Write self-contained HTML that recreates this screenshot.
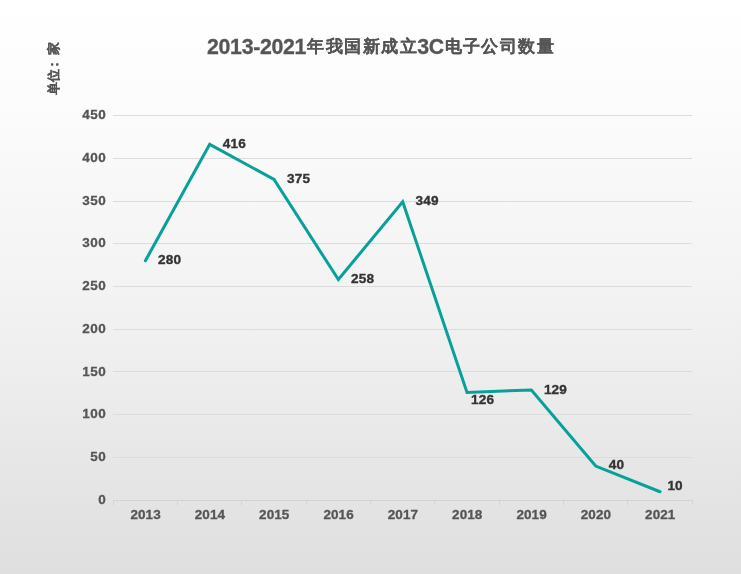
<!DOCTYPE html>
<html><head><meta charset="utf-8">
<style>
html,body{margin:0;padding:0;}
body{width:741px;height:574px;overflow:hidden;background:linear-gradient(to bottom,#ffffff 0px,#fcfcfc 100px,#f7f7f7 200px,#f3f3f3 287px,#ededed 380px,#e6e6e6 470px,#dfdfdf 574px);font-family:"Liberation Sans",sans-serif;}
svg{position:absolute;left:0;top:0;will-change:transform;}
</style></head>
<body>
<svg width="741" height="574" viewBox="0 0 741 574">
<g stroke="#dcdcdc" stroke-width="1" fill="none">
<line x1="113" y1="115.5" x2="692" y2="115.5"/>
<line x1="113" y1="158.5" x2="692" y2="158.5"/>
<line x1="113" y1="201.5" x2="692" y2="201.5"/>
<line x1="113" y1="243.5" x2="692" y2="243.5"/>
<line x1="113" y1="286.5" x2="692" y2="286.5"/>
<line x1="113" y1="329.5" x2="692" y2="329.5"/>
<line x1="113" y1="371.5" x2="692" y2="371.5"/>
<line x1="113" y1="414.5" x2="692" y2="414.5"/>
<line x1="113" y1="457.5" x2="692" y2="457.5"/>
</g>
<g stroke="#d4d4d4" stroke-width="1" fill="none"><line x1="113" y1="500.5" x2="693" y2="500.5"/><path d="M113.5 500.5V505M177.5 500.5V505M241.5 500.5V505M306.5 500.5V505M370.5 500.5V505M434.5 500.5V505M499.5 500.5V505M563.5 500.5V505M627.5 500.5V505M692.5 500.5V505"/></g>
<g font-family="Liberation Sans, sans-serif" font-weight="bold" font-size="13.5" letter-spacing="0.5" fill="#555" stroke="#555" stroke-width="0.3" text-anchor="end">
<text x="106.3" y="119.3" dy="0">450</text>
<text x="106.3" y="162.3" dy="0">400</text>
<text x="106.3" y="205.3" dy="0">350</text>
<text x="106.3" y="247.3" dy="0">300</text>
<text x="106.3" y="290.3" dy="0">250</text>
<text x="106.3" y="333.3" dy="0">200</text>
<text x="106.3" y="375.5" dy="0">150</text>
<text x="106.3" y="418.3" dy="0">100</text>
<text x="106.3" y="461.3" dy="0">50</text>
<text x="106.3" y="504.3" dy="0">0</text>
</g>
<g font-family="Liberation Sans, sans-serif" font-weight="bold" font-size="13.5" letter-spacing="0.1" fill="#555" stroke="#555" stroke-width="0.3" text-anchor="middle">
<text x="145.62" y="519.1">2013</text>
<text x="209.95" y="519.1">2014</text>
<text x="274.28" y="519.1">2015</text>
<text x="338.62" y="519.1">2016</text>
<text x="402.95" y="519.1">2017</text>
<text x="467.28" y="519.1">2018</text>
<text x="531.62" y="519.1">2019</text>
<text x="595.95" y="519.1">2020</text>
<text x="660.28" y="519.1">2021</text>
</g>
<polyline points="145.37,260.74 209.70,144.39 274.03,179.47 338.37,279.57 402.70,201.71 467.03,392.50 531.37,389.93 595.70,466.08 660.03,491.74" fill="none" stroke="#07a199" stroke-width="3" stroke-linejoin="miter" stroke-miterlimit="10" stroke-linecap="round"/>
<g font-family="Liberation Sans, sans-serif" font-weight="bold" font-size="13.6" letter-spacing="0.15" fill="#333" stroke="#333" stroke-width="0.35" text-anchor="start">
<text x="158.1" y="263.9">280</text>
<text x="222.8" y="148.2">416</text>
<text x="287.1" y="182.9">375</text>
<text x="351.1" y="282.9">258</text>
<text x="415.5" y="205.0">349</text>
<text x="471" y="403.9">126</text>
<text x="543.9" y="393.6">129</text>
<text x="608.8" y="468.9">40</text>
<text x="667.4" y="490.4">10</text>
</g>
<g font-family="Liberation Sans, sans-serif" font-weight="bold" fill="#555">
<text x="207" y="53.5" font-size="21.3" letter-spacing="-0.3" stroke="#555" stroke-width="0.3">2013-2021</text>
<text x="417.2" y="53.5" font-size="21.3" letter-spacing="-0.3" stroke="#555" stroke-width="0.3">3C</text>
<text x="306.5 325.6 344.2 362.6 381.3 400.0" y="51.5" font-size="17" stroke="#555" stroke-width="0.1">年我国新成立</text>
<text x="444.6 463.0 481.0 499.5 517.9 537.2" y="51.5" font-size="17" stroke="#555" stroke-width="0.1">电子公司数量</text>
</g>
<text transform="translate(58,95) rotate(-90)" x="0 13 24 40" y="0" font-family="Liberation Sans, sans-serif" font-weight="bold" font-size="12.5" fill="#555" stroke="#555" stroke-width="0.15">单位：家</text>
</svg>
</body></html>
